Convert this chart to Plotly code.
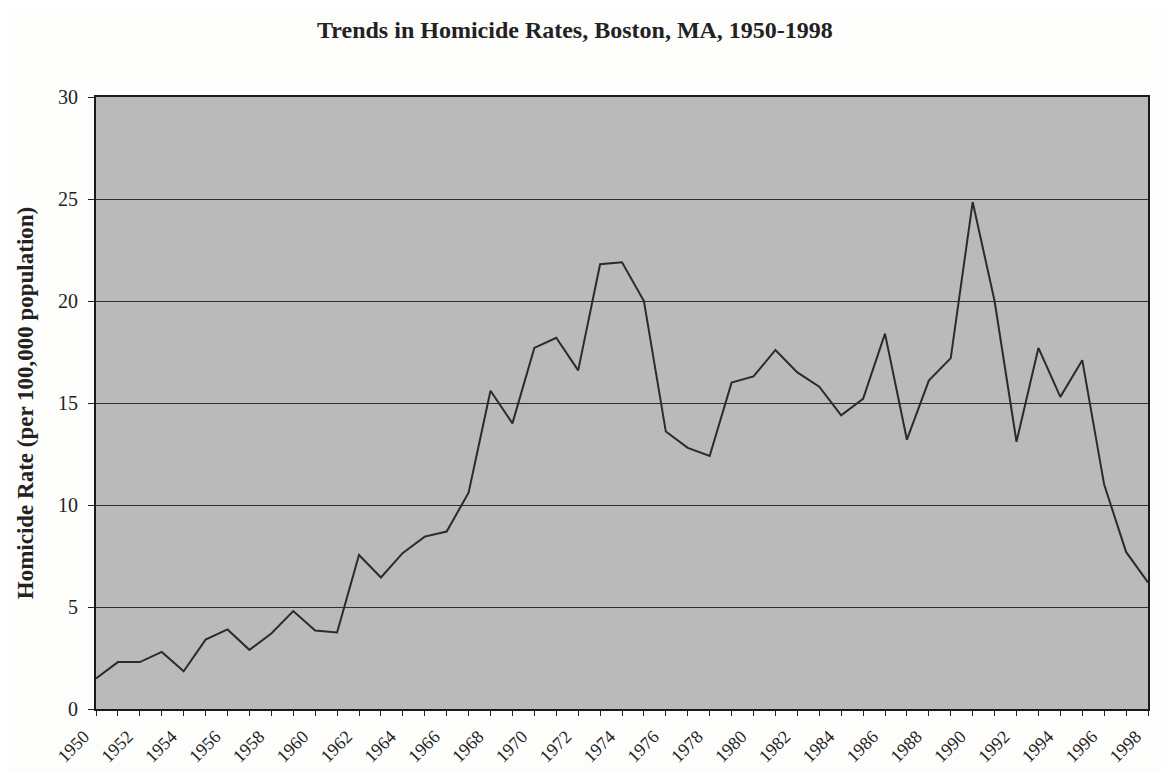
import plotly.graph_objects as go

years = list(range(1950, 1999))
rates = [1.5, 2.3, 2.3, 2.8, 1.85, 3.4, 3.9, 2.9, 3.7, 4.8,
         3.85, 3.75, 7.55, 6.45, 7.65, 8.45, 8.7, 10.6, 15.6, 14.0,
         17.7, 18.2, 16.6, 21.8, 21.9, 20.0, 13.6, 12.8, 12.4, 16.0,
         16.3, 17.6, 16.5, 15.8, 14.4, 15.2, 18.4, 13.2, 16.1, 17.2,
         24.85, 20.0, 13.1, 17.7, 15.3, 17.1, 11.0, 7.7, 6.2]

title_text = "Trends in Homicide Rates, Boston, MA, 1950-1998"
y_title = "Homicide Rate (per 100,000 population)"

FONT = "Liberation Serif, Times New Roman, serif"

fig = go.Figure(
    go.Scatter(x=years, y=rates, mode="lines",
               line=dict(color="#2b2b2b", width=2), showlegend=False)
)

fig.update_layout(
    width=1170, height=772,
    margin=dict(l=88, r=30, t=89, b=71),
    paper_bgcolor="#fdfdfb",
    plot_bgcolor="#bababa",
    font=dict(family=FONT, size=19, color="#222222"),
    title=dict(text="<b>" + title_text + "</b>", xref="container", x=0.4846,
               xanchor="center", yref="container", y=0.9715, yanchor="middle",
               font=dict(family=FONT, size=24, color="#222222")),
)

fig.update_xaxes(
    range=[1950, 1998], tickmode="linear", tick0=1950, dtick=2,
    tickangle=-45, ticks="outside", ticklen=5, tickcolor="#222222",
    ticklabelstandoff=3, ticklabelshift=-12, automargin=False,
    showgrid=False, zeroline=False,
    showline=True, linecolor="#1a1a1a", linewidth=2, mirror=True,
    minor=dict(ticks="outside", dtick=1, tick0=1950, ticklen=5,
               tickcolor="#222222", showgrid=False),
    tickfont=dict(family=FONT, size=18),
)

fig.update_yaxes(
    range=[0, 30], tickmode="linear", tick0=0, dtick=5,
    ticks="outside", ticklen=6, tickcolor="#222222",
    ticklabelstandoff=6,
    showgrid=True, gridcolor="#2e2e2e", gridwidth=1, zeroline=False,
    showline=True, linecolor="#1a1a1a", linewidth=2, mirror=True,
    tickfont=dict(family=FONT, size=20),
    title=dict(text="<b>" + y_title + "</b>", standoff=18,
               font=dict(family=FONT, size=23)),
)

fig.write_html("out.html")
